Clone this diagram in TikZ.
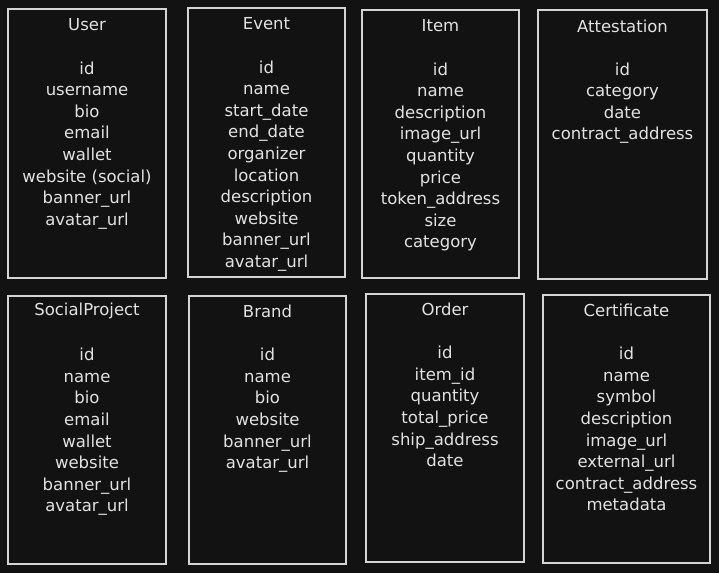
\documentclass[tikz,border=0pt]{standalone}
\usepackage{fontspec}
\setmainfont{DejaVu Sans}
\definecolor{bgdark}{HTML}{121212}
\definecolor{boxline}{HTML}{D4D4D4}
\definecolor{ink}{HTML}{E2E2E2}
\begin{document}
\begin{tikzpicture}[x=1pt, y=-1pt,
    entity/.style={draw=boxline, line width=1.2pt, fill=bgdark, minimum width=158pt, minimum height=269pt, inner sep=0pt},
    title/.style={text=ink, font=\fontsize{16.5}{21.6}\selectfont, inner sep=0pt},
    fields/.style={text=ink, font=\fontsize{16.5}{21.6}\selectfont, align=center, anchor=north, inner sep=0pt}]
    \fill [bgdark] (0,0) rectangle (719,573);
    \useasboundingbox (0,0) rectangle (719,573);

    \node [entity] (user) at (87,143.5) {};
    \node [title] (user-t) at ([yshift=-16.5pt]user.north) {User};
    \node [fields] (user-f) at ([yshift=-53pt]user.north) {id\\username\\bio\\email\\wallet\\website (social)\\banner\_url\\avatar\_url};

    \node [entity, minimum width=157pt] (event) at (266.5,142.5) {};
    \node [title] (event-t) at ([yshift=-16.5pt]event.north) {Event};
    \node [fields] (event-f) at ([yshift=-53pt]event.north) {id\\name\\start\_date\\end\_date\\organizer\\location\\description\\website\\banner\_url\\avatar\_url};

    \node [entity, minimum width=157pt, minimum height=268pt] (item) at (440.5,144) {};
    \node [title] (item-t) at ([yshift=-16.5pt]item.north) {Item};
    \node [fields] (item-f) at ([yshift=-53pt]item.north) {id\\name\\description\\image\_url\\quantity\\price\\token\_address\\size\\category};

    \node [entity, minimum width=169pt] (attest) at (622.5,144.5) {};
    \node [title] (attest-t) at ([yshift=-16.5pt]attest.north) {Attestation};
    \node [fields] (attest-f) at ([yshift=-53pt]attest.north) {id\\category\\date\\contract\_address};

    \node [entity, minimum height=268pt] (social) at (87,430) {};
    \node [title] (social-t) at ([yshift=-16pt]social.north) {SocialProject};
    \node [fields] (social-f) at ([yshift=-52.5pt]social.north) {id\\name\\bio\\email\\wallet\\website\\banner\_url\\avatar\_url};

    \node [entity, minimum width=157pt, minimum height=268pt] (brand) at (267.5,430) {};
    \node [title] (brand-t) at ([yshift=-16pt]brand.north) {Brand};
    \node [fields] (brand-f) at ([yshift=-52.5pt]brand.north) {id\\name\\bio\\website\\banner\_url\\avatar\_url};

    \node [entity, minimum height=268pt] (order) at (445,428) {};
    \node [title] (order-t) at ([yshift=-16pt]order.north) {Order};
    \node [fields] (order-f) at ([yshift=-52.5pt]order.north) {id\\item\_id\\quantity\\total\_price\\ship\_address\\date};

    \node [entity, minimum width=167pt, minimum height=268pt] (cert) at (626.5,429) {};
    \node [title] (cert-t) at ([yshift=-16pt]cert.north) {Certificate};
    \node [fields] (cert-f) at ([yshift=-52.5pt]cert.north) {id\\name\\symbol\\description\\image\_url\\external\_url\\contract\_address\\metadata};
\end{tikzpicture}
\end{document}
